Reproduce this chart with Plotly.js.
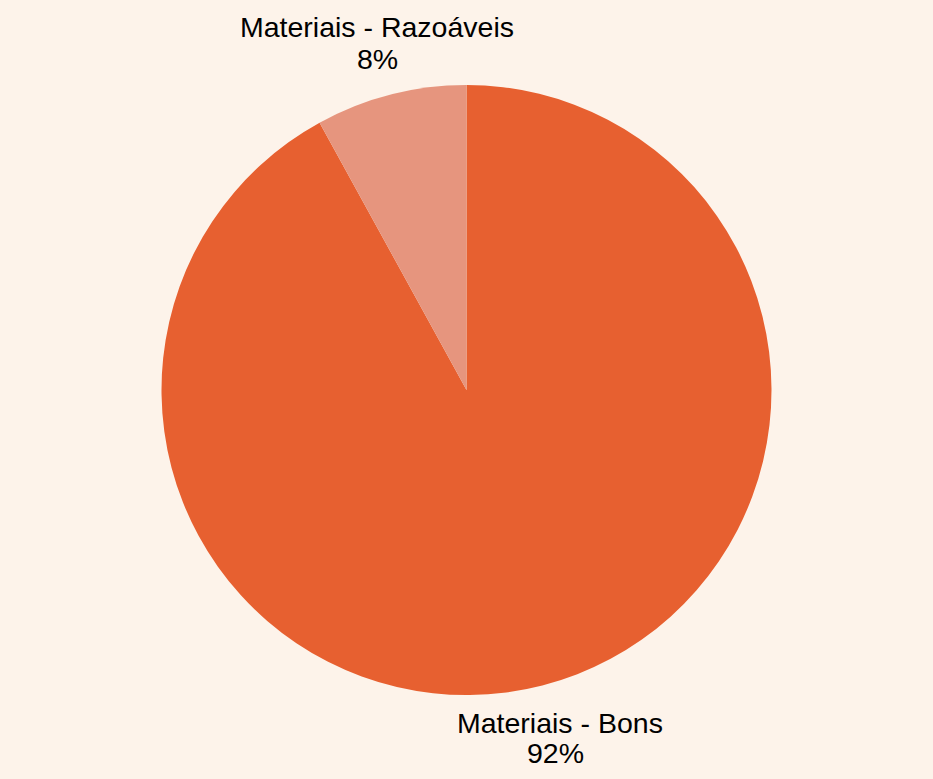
<!DOCTYPE html>
<html>
<head>
<meta charset="utf-8">
<script src="https://cdn.plot.ly/plotly-3.0.1.min.js"></script>
<style>html,body{margin:0;padding:0;background:#fdf3ea;}</style>
</head>
<body>
<div id="chart" style="width:933px;height:779px;"></div>
<script>
const categories = ["Materiais - Bons", "Materiais - Razoáveis"];
const values = [92, 8];
const colors = ["#e76030", "#e6957e"];

const total = values.reduce((a, b) => a + b, 0);
const pctText = values.map(v => Math.round(v / total * 100) + "%");

// label placement (paper coords) for each category: [name line, percent line]
const labelX = [[0.6002, 0.5959], [0.4046, 0.4046]];
const labelY = [[-0.0451, -0.0959], [1.0959, 1.0434]];

const font = {family: "Liberation Sans, Arial, sans-serif", size: 28.5, color: "#000"};
const annotations = [];
categories.forEach((c, i) => {
  annotations.push({text: c, x: labelX[i][0], y: labelY[i][0], xref: "paper", yref: "paper",
    xanchor: "center", yanchor: "middle", showarrow: false, font: font});
  annotations.push({text: pctText[i], x: labelX[i][1], y: labelY[i][1], xref: "paper", yref: "paper",
    xanchor: "center", yanchor: "middle", showarrow: false, font: font});
});

Plotly.newPlot("chart", [{
  type: "pie",
  labels: categories,
  values: values,
  sort: false,
  direction: "clockwise",
  rotation: 0,
  marker: {colors: colors, line: {width: 0}},
  textinfo: "none",
  hoverinfo: "none"
}], {
  width: 933,
  height: 779,
  showlegend: false,
  paper_bgcolor: "#fdf3ea",
  plot_bgcolor: "#fdf3ea",
  margin: {l: 0, r: 0, t: 85, b: 84},
  annotations: annotations
}, {displayModeBar: false, staticPlot: true});
</script>
</body>
</html>
